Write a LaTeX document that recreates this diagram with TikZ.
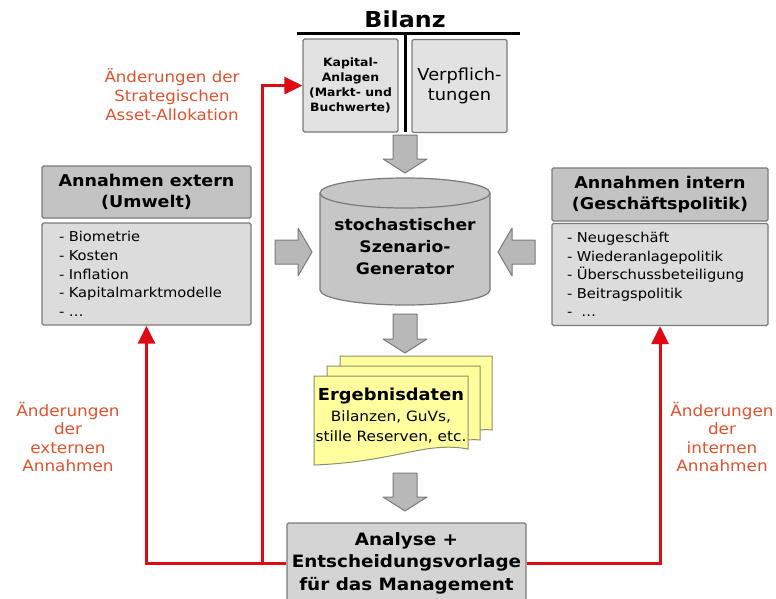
\documentclass[tikz,border=0pt]{standalone}
\usepackage{fontspec}
\setmainfont{DejaVu Sans}[FakeStretch=1.08]
\usetikzlibrary{arrows.meta}
\definecolor{redline}{HTML}{E00A14}
\definecolor{redtext}{HTML}{E4502E}
\definecolor{boxborder}{HTML}{7A7A7A}
\definecolor{lightbox}{HTML}{E2E2E2}
\definecolor{headbox}{HTML}{C3C3C3}
\definecolor{bodybox}{HTML}{DCDCDC}
\definecolor{anabox}{HTML}{D4D4D4}
\definecolor{cylfill}{HTML}{C6C6C6}
\definecolor{arrowfill}{HTML}{B8B8B8}
\definecolor{docfill}{HTML}{FFFF9E}
\definecolor{docborder}{HTML}{8E8E6A}
\newcommand{\grayDown}[3]{\draw[blockarrow] (#1-12,#2) -- (#1+12,#2) -- (#1+12,#3-14) -- (#1+22,#3-14) -- (#1,#3) -- (#1-22,#3-14) -- (#1-12,#3-14) -- cycle;}
\newcommand{\grayHoriz}[4]{\draw[blockarrow] (#1,#3-12) -- (#2-#4,#3-12) -- (#2-#4,#3-24) -- (#2,#3) -- (#2-#4,#3+24) -- (#2-#4,#3+12) -- (#1,#3+12) -- cycle;}
\begin{document}
\begin{tikzpicture}[x=1pt,y=-1pt,
  graybox/.style={draw=boxborder, line width=1.2pt, rounded corners=1.5pt, inner sep=0pt},
  blockarrow/.style={draw=boxborder, fill=arrowfill, line width=1pt, line join=round},
  redconn/.style={draw=redline, line width=3pt, -{Triangle[length=18pt,width=17pt]}},
  redlab/.style={text=redtext, align=center, font=\fontsize{15.4}{19}\selectfont},
  headtxt/.style={font=\bfseries\fontsize{16.2}{21.5}\selectfont, align=center},
  listtxt/.style={font=\fontsize{13.6}{18.6}\selectfont, align=left, text width=175pt, inner xsep=17pt}
]
\useasboundingbox (0,0) rectangle (776,598);

% Bilanz
\node[font=\bfseries\fontsize{22}{26}\selectfont] (bil) at (405,19) {Bilanz};
\coordinate (tl) at (297,33);
\coordinate (tr) at (520,33);
\coordinate (tm) at (405,33);
\coordinate (tb) at (405,132);
\draw[line width=3pt] (tl) -- (tr);
\draw[line width=3pt] (tm) -- (tb);
\node[graybox, fill=lightbox, minimum width=95pt, minimum height=93pt, align=center,
      font=\bfseries\fontsize{11.5}{15}\selectfont] (kap) at (350.5,85.5)
      {Kapital-\\Anlagen\\(Markt- und\\Buchwerte)};
\node[graybox, fill=lightbox, minimum width=95pt, minimum height=93pt, align=center,
      font=\fontsize{16.5}{19.5}\selectfont] (verp) at (459.5,86) {Verpflich-\\tungen};

% arrows to/from cylinder
\grayDown{405}{135}{173}
\grayDown{405}{314}{353}
\grayDown{405}{473}{511}
\grayHoriz{275}{312}{252}{14}
\grayHoriz{535}{498}{252}{-14}

% cylinder
\draw[draw=boxborder, fill=cylfill, line width=1.2pt]
  (320,193) -- (320,290) arc[start angle=180, end angle=360, x radius=85pt, y radius=15pt]
  -- (490,193) arc[start angle=0, end angle=180, x radius=85pt, y radius=15pt] -- cycle;
\draw[draw=boxborder, line width=1.2pt]
  (320,193) arc[start angle=180, end angle=360, x radius=85pt, y radius=15pt];
\node[font=\bfseries\fontsize{15.9}{22}\selectfont, align=center] (gen) at (405,247)
  {stochastischer\\Szenario-\\Generator};

% external assumptions
\node[graybox, fill=headbox, minimum width=209pt, minimum height=52pt, headtxt] (exthead) at (146.5,192)
  {Annahmen extern\\(Umwelt)};
\node[graybox, fill=bodybox, minimum width=209pt, minimum height=102pt, listtxt] (extbody) at (146.5,274)
  {\mbox{- Biometrie}\\\mbox{- Kosten}\\\mbox{- Inflation}\\\mbox{- Kapitalmarktmodelle}\\\mbox{- \dots}};

% internal assumptions
\node[graybox, fill=headbox, minimum width=216pt, minimum height=53pt, headtxt] (inthead) at (660,194.5)
  {Annahmen intern\\(Geschäftspolitik)};
\node[graybox, fill=bodybox, minimum width=216pt, minimum height=102pt, listtxt, inner xsep=15pt, text width=186pt] (intbody) at (660,274.5)
  {\mbox{- Neugeschäft}\\\mbox{- Wiederanlagepolitik}\\\mbox{- Überschussbeteiligung}\\\mbox{- Beitragspolitik}\\\mbox{-\ \ \dots}};

% result documents
\draw[draw=docborder, fill=docfill, line width=1pt] (340,356) -- (492,356) -- (492,430)
  .. controls (470,428) and (460,436) .. (440,438) -- (340,438) -- cycle;
\draw[draw=docborder, fill=docfill, line width=1pt] (327,366) -- (480,366) -- (480,440)
  .. controls (460,438) and (450,446) .. (430,448) -- (327,448) -- cycle;
\draw[draw=docborder, fill=docfill, line width=1pt] (314,376) -- (468,376) -- (468,449)
  .. controls (425,441) and (395,462) .. (314,465) -- cycle;
\node[align=center, font=\fontsize{14.2}{20.5}\selectfont] (erg) at (391,416)
  {{\bfseries\fontsize{16.5}{20.5}\selectfont Ergebnisdaten}\\Bilanzen, GuVs,\\stille Reserven, etc.};

% analysis box
\node[graybox, fill=anabox, minimum width=239pt, minimum height=80pt, align=center,
      font=\bfseries\fontsize{17}{22.5}\selectfont] (ana) at (406.5,563)
  {Analyse +\\Entscheidungsvorlage\\für das Management};

% red connectors
\coordinate (jl) at (262,563);
\draw[redconn] (ana.west) -| (extbody.south);
\draw[redconn] (jl) |- (kap.west);
\draw[redconn] (ana.east) -| (intbody.south);

% red labels
\node[redlab] (lstrat) at (172,95) {Änderungen der\\Strategischen\\Asset-Allokation};
\node[redlab, font=\fontsize{15.6}{18.2}\selectfont] (lext) at (68,437) {Änderungen\\der\\externen\\Annahmen};
\node[redlab, font=\fontsize{15.6}{18.2}\selectfont] (lint) at (722,437) {Änderungen\\der\\internen\\Annahmen};
\end{tikzpicture}
\end{document}
